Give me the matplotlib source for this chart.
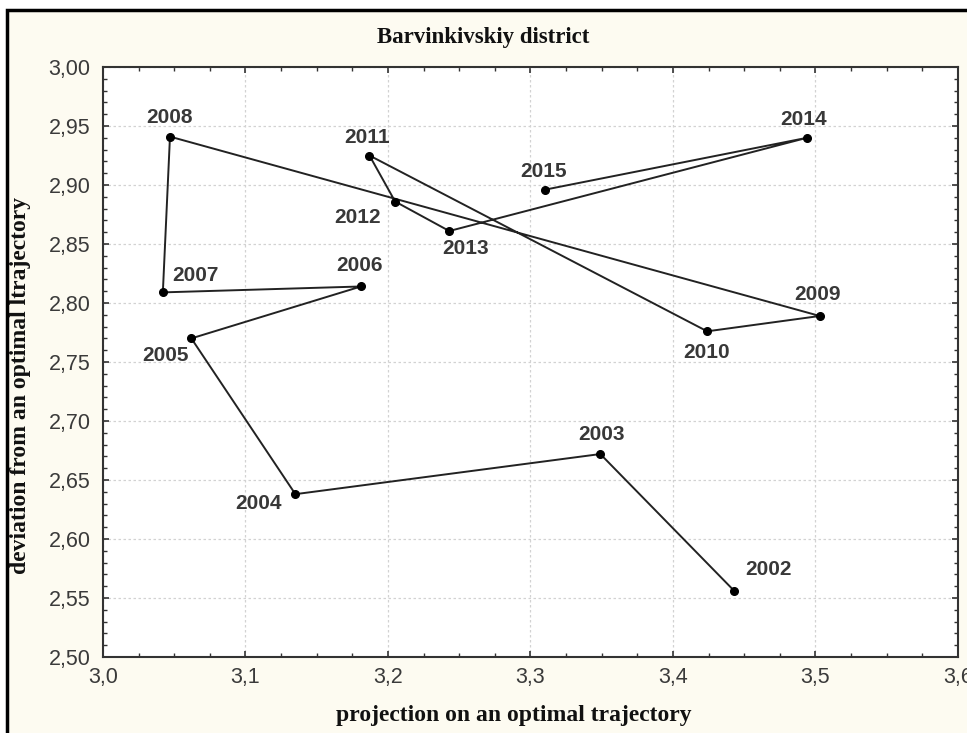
import matplotlib
matplotlib.use("Agg")
import matplotlib.pyplot as plt
from matplotlib.ticker import MultipleLocator, FuncFormatter
from matplotlib.patches import Rectangle

years = ["2002", "2003", "2004", "2005", "2006", "2007", "2008",
         "2009", "2010", "2011", "2012", "2013", "2014", "2015"]
projection = [3.443, 3.349, 3.135, 3.062, 3.181, 3.042, 3.047,
              3.503, 3.424, 3.187, 3.205, 3.243, 3.494, 3.310]
deviation = [2.556, 2.672, 2.638, 2.770, 2.814, 2.809, 2.941,
             2.789, 2.776, 2.925, 2.886, 2.861, 2.940, 2.896]

title = "Barvinkivskiy district"
xlabel = "projection on an optimal trajectory"
ylabel = "deviation from an optimal ltrajectory"

# label offsets in pixels (style only)
label_offsets = {
    "2002": (34, 21), "2003": (1, 20), "2004": (-37, -9), "2005": (-26, -17),
    "2006": (-1, 21), "2007": (33, 17), "2008": (0, 19), "2009": (-2, 21),
    "2010": (-1, -21), "2011": (-2, 18), "2012": (-38, -16), "2013": (16, -17),
    "2014": (-3, 18), "2015": (-1, 18),
}

W, H = 967, 733
fig = plt.figure(figsize=(W / 100, H / 100), dpi=100)
fig.patch.set_facecolor("white")

# cream frame with black border
frame = Rectangle((7 / W, 1 - 745 / H), (980 - 7) / W, (745 - 10) / H,
                  transform=fig.transFigure, facecolor="#fdfbf1",
                  edgecolor="black", linewidth=2.5, zorder=-10)
fig.patches.append(frame)

ax = fig.add_axes([103 / W, 1 - 657 / H, (958 - 103) / W, (657 - 67) / H])
ax.set_zorder(1)
ax.set_facecolor("white")

ax.plot(projection, deviation, color="#222222", linewidth=1.4,
        marker="o", markersize=5.5, markerfacecolor="black",
        markeredgecolor="black", zorder=3)

for yr, xv, yv in zip(years, projection, deviation):
    dx, dy = label_offsets[yr]
    ax.annotate(yr, (xv, yv), xytext=(dx, dy), textcoords="offset pixels",
                ha="center", va="center", fontsize=15, fontweight="bold",
                family="Liberation Sans", color="#383838", zorder=4)

ax.set_xlim(3.0, 3.6)
ax.set_ylim(2.50, 3.00)
ax.xaxis.set_major_locator(MultipleLocator(0.1))
ax.xaxis.set_minor_locator(MultipleLocator(0.025))
ax.yaxis.set_major_locator(MultipleLocator(0.05))
ax.yaxis.set_minor_locator(MultipleLocator(0.01))
ax.xaxis.set_major_formatter(FuncFormatter(lambda v, p: f"{v:.1f}".replace(".", ",")))
ax.yaxis.set_major_formatter(FuncFormatter(lambda v, p: f"{v:.2f}".replace(".", ",")))

ax.tick_params(which="both", direction="in", top=True, right=True,
               color="#333333")
ax.tick_params(which="major", length=4, width=1.2, labelsize=15.5,
               labelcolor="#3a3a3a")
ax.tick_params(axis="y", which="major", pad=9)
ax.tick_params(axis="x", which="major", pad=7)
ax.tick_params(which="minor", length=3, width=1.0)
for lab in ax.get_xticklabels() + ax.get_yticklabels():
    lab.set_family("Liberation Sans")

for s in ax.spines.values():
    s.set_color("#333333")
    s.set_linewidth(1.5)

ax.grid(True, which="major", color="#d2d2d2", linestyle=(0, (2, 2)),
        linewidth=0.9, zorder=0)
ax.set_axisbelow(True)

fig.text(483 / W, 1 - 38 / H, title, ha="center", va="center",
         family="Liberation Serif", fontweight="bold", fontsize=16.5,
         color="#111111")
fig.text(514 / W, 1 - 716 / H, xlabel, ha="center", va="center",
         family="Liberation Serif", fontweight="bold", fontsize=17,
         color="#111111")
fig.text(21 / W, 1 - 385 / H, ylabel, ha="center", va="center",
         rotation=90, family="Liberation Serif", fontweight="bold",
         fontsize=17, color="#111111")

fig.savefig("out.png", dpi=100)
